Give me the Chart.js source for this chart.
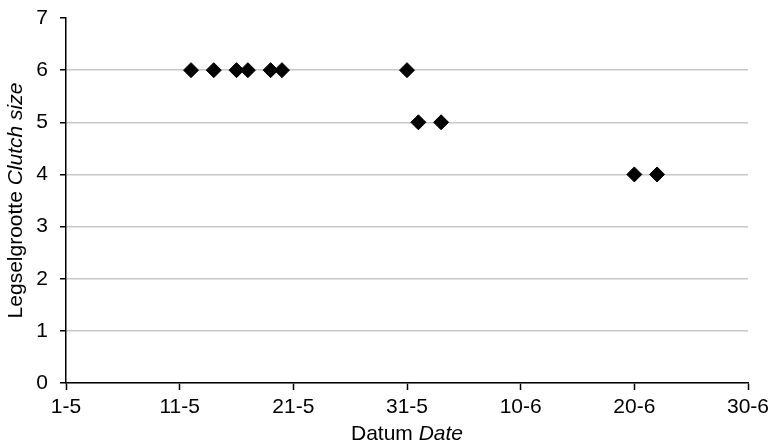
<!DOCTYPE html>
<html>
<head>
<meta charset="utf-8">
<script src="https://cdn.jsdelivr.net/npm/chart.js@4/dist/chart.umd.min.js"></script>
<style>
  html, body { margin: 0; padding: 0; background: #fff; }
  #wrap { width: 769px; height: 445px; position: relative; }
</style>
</head>
<body>
<div id="wrap"><canvas id="clutchChart" width="769" height="445"></canvas></div>
<script>
// Laying dates (day-month) and clutch sizes
const layDates = ['12-5', '14-5', '16-5', '17-5', '19-5', '20-5', '31-5', '1-6', '3-6', '20-6', '22-6'];
const clutchSizes = [6, 6, 6, 6, 6, 6, 6, 5, 5, 4, 4];

// x axis tick labels, one every 10 days from 1 May
const xTickLabels = ['1-5', '11-5', '21-5', '31-5', '10-6', '20-6', '30-6'];
const yTicks = [0, 1, 2, 3, 4, 5, 6, 7];

// days since 1 May
function dayIndex(str) {
    const [d, m] = str.split('-').map(Number);
    return (m === 6 ? 31 : 0) + d - 1;
}

const points = layDates.map((d, i) => ({ x: dayIndex(d), y: clutchSizes[i] }));

const FONT = '"Liberation Sans", Arial, sans-serif';

// draw axis titles with a normal and an italic part
function drawMixed(ctx, parts, size) {
    let total = 0;
    parts.forEach(p => {
        ctx.font = (p.italic ? 'italic ' : '') + size + 'px ' + FONT;
        p.w = ctx.measureText(p.text).width;
        total += p.w;
    });
    let x = -total / 2;
    parts.forEach(p => {
        ctx.font = (p.italic ? 'italic ' : '') + size + 'px ' + FONT;
        ctx.fillText(p.text, x, 0);
        x += p.w;
    });
}

const axisTitles = {
    id: 'axisTitles',
    afterDraw(chart) {
        const ctx = chart.ctx;
        const area = chart.chartArea;
        ctx.save();
        ctx.fillStyle = '#000';
        ctx.textAlign = 'left';
        ctx.textBaseline = 'middle';
        ctx.translate((area.left + area.right) / 2, 434);
        drawMixed(ctx, [{ text: 'Datum ' }, { text: 'Date', italic: true }], 21);
        ctx.restore();

        ctx.save();
        ctx.fillStyle = '#000';
        ctx.textAlign = 'left';
        ctx.textBaseline = 'middle';
        ctx.translate(16, (area.top + area.bottom) / 2);
        ctx.rotate(-Math.PI / 2);
        drawMixed(ctx, [{ text: 'Legselgrootte ' }, { text: 'Clutch size', italic: true }], 21);
        ctx.restore();
    }
};

const ctx = document.getElementById('clutchChart').getContext('2d');
new Chart(ctx, {
    type: 'scatter',
    data: {
        datasets: [{
            data: points,
            pointStyle: 'rectRot',
            pointRadius: 7.5,
            pointHoverRadius: 7.5,
            backgroundColor: '#000',
            borderColor: '#000',
            borderWidth: 1
        }]
    },
    options: {
        responsive: false,
        animation: false,
        devicePixelRatio: 1,
        layout: { padding: { top: 18, right: 21, left: 0, bottom: 0 } },
        plugins: {
            legend: { display: false },
            tooltip: { enabled: false }
        },
        scales: {
            x: {
                type: 'linear',
                min: 0,
                max: 60,
                afterFit(scale) {
                    scale.height = 62;
                    scale.paddingLeft = 0;
                    scale.paddingRight = 0;
                },
                afterBuildTicks(scale) {
                    scale.ticks = xTickLabels.map((_, i) => ({ value: i * 10 }));
                },
                grid: {
                    drawOnChartArea: false,
                    tickLength: 7,
                    tickColor: '#000',
                    tickWidth: 1.5
                },
                border: { color: '#000', width: 1.5 },
                ticks: {
                    color: '#000',
                    font: { family: FONT, size: 21 },
                    padding: 5,
                    maxRotation: 0,
                    autoSkip: false,
                    callback: (v) => xTickLabels[Math.round(v / 10)]
                }
            },
            y: {
                min: 0,
                max: 7,
                afterFit(scale) {
                    scale.width = 66;
                    scale.paddingTop = 0;
                    scale.paddingBottom = 0;
                },
                afterBuildTicks(scale) {
                    scale.ticks = yTicks.map(v => ({ value: v }));
                },
                grid: {
                    color: (c) => (c.tick && c.tick.value === 7) ? 'rgba(0,0,0,0)' : '#c8c8c8',
                    lineWidth: 1.5,
                    tickLength: 6,
                    tickColor: '#000',
                    tickWidth: 1.5
                },
                border: { color: '#000', width: 1.5 },
                ticks: {
                    color: '#000',
                    font: { family: FONT, size: 21 },
                    padding: 12,
                    autoSkip: false,
                    callback: (v) => String(v)
                }
            }
        }
    },
    plugins: [axisTitles]
});
</script>
</body>
</html>
